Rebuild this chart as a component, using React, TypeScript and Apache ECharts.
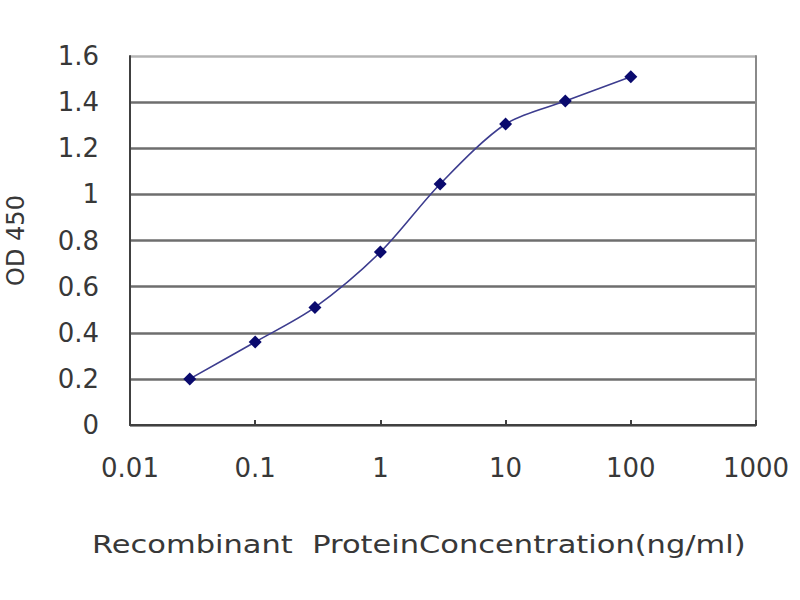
import { useEffect, useRef } from 'react';
import * as echarts from 'echarts';

// 浓度 (ng/ml) 与 OD450 读数
const concentrations = [0.03, 0.1, 0.3, 1, 3, 10, 30, 100];
const odValues = [0.2, 0.36, 0.51, 0.75, 1.045, 1.305, 1.405, 1.51];
const xTickLabels = ['0.01', '0.1', '1', '10', '100', '1000'];
const yTickLabels = ['0', '0.2', '0.4', '0.6', '0.8', '1', '1.2', '1.4', '1.6'];

const xTitle = 'Recombinant  ProteinConcentration(ng/ml)';
const yTitle = 'OD 450';

const labelFont = 'DejaVu Sans';

const App: React.FC = () => {
    const chartRef = useRef<HTMLDivElement | null>(null);

    useEffect(() => {
        if (!chartRef.current) return;
        const chart = echarts.init(chartRef.current, undefined, { renderer: 'svg' });

        // 最上面那条线颜色浅一些
        const gridColors = yTickLabels.map((_, i) =>
            i === yTickLabels.length - 1 ? '#b4b4b4' : '#6e6e6e'
        );

        chart.setOption({
            animation: false,
            backgroundColor: '#ffffff',
            grid: { left: 130, right: 44, top: 56, bottom: 175, outerBoundsMode: 'none' },
            xAxis: {
                type: 'log',
                logBase: 10,
                min: 0.01,
                max: 1000,
                axisLine: { show: true, lineStyle: { color: '#404040', width: 2 } },
                axisTick: { show: true, inside: true, length: 5, lineStyle: { color: '#404040', width: 2 } },
                splitLine: { show: false },
                minorTick: { show: false },
                axisLabel: {
                    color: '#383838',
                    fontFamily: labelFont,
                    fontSize: 26,
                    margin: 30,
                    formatter: (v: number) => xTickLabels[Math.round(Math.log10(v)) + 2] ?? ''
                }
            },
            yAxis: [
                {
                    type: 'value',
                    min: 0,
                    max: 1.6,
                    interval: 0.2,
                    name: yTitle,
                    nameLocation: 'middle',
                    nameGap: 102,
                    nameRotate: 90,
                    nameTextStyle: { color: '#383838', fontFamily: labelFont, fontSize: 24 },
                    axisLine: { show: true, lineStyle: { color: '#404040', width: 2 } },
                    axisTick: { show: false },
                    splitLine: { show: true, lineStyle: { color: gridColors, width: 2.5 } },
                    axisLabel: {
                        color: '#383838',
                        fontFamily: labelFont,
                        fontSize: 26,
                        margin: 31,
                        formatter: (v: number) => yTickLabels[Math.round(v / 0.2)] ?? ''
                    }
                },
                {
                    type: 'value',
                    position: 'right',
                    min: 0,
                    max: 1.6,
                    interval: 0.2,
                    axisLine: { show: true, lineStyle: { color: '#8a8a8a', width: 2 } },
                    axisTick: { show: false },
                    axisLabel: { show: false },
                    splitLine: { show: false }
                }
            ],
            graphic: [
                {
                    type: 'text',
                    left: 92,
                    top: 532,
                    scaleX: 1.22,
                    style: {
                        text: xTitle,
                        fill: '#383838',
                        font: `25px "${labelFont}"`
                    }
                }
            ],
            series: [
                {
                    type: 'line',
                    data: concentrations.map((c, i) => [c, odValues[i]]),
                    smooth: 0.3,
                    symbol: 'diamond',
                    symbolSize: 13,
                    itemStyle: { color: '#0a0a6e' },
                    lineStyle: { color: '#3d3d8f', width: 1.6 }
                }
            ]
        });

        return () => {
            chart.dispose();
        };
    }, []);

    return (
        <div
            ref={chartRef}
            style={{ position: 'fixed', left: 0, top: 0, width: '800px', height: '600px' }}
        />
    );
};

export default App;
